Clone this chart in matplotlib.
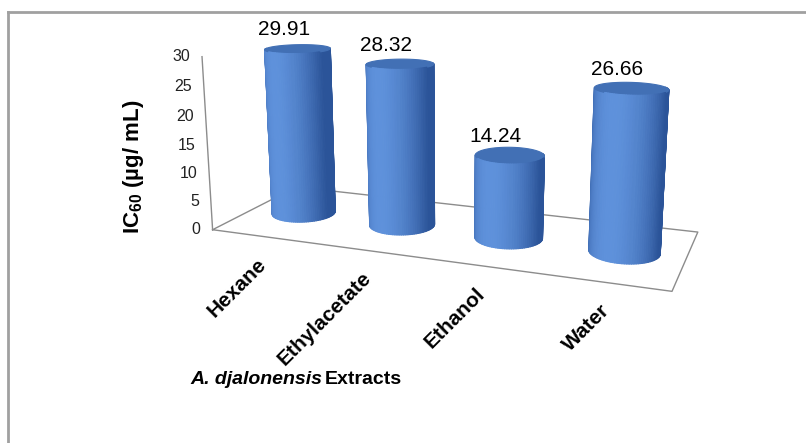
import numpy as np
import matplotlib
matplotlib.use("Agg")
import matplotlib.pyplot as plt
from matplotlib.lines import Line2D
from matplotlib import transforms
from mpl_toolkits.mplot3d.art3d import Poly3DCollection

plt.rcParams['font.family'] = ['Liberation Sans', 'DejaVu Sans']
plt.rcParams['mathtext.fontset'] = 'custom'
plt.rcParams['mathtext.rm'] = 'Liberation Sans'
plt.rcParams['mathtext.bf'] = 'Liberation Sans:bold'

extracts = ["Hexane", "Ethylacetate", "Ethanol", "Water"]
ic60 = [29.91, 28.32, 14.24, 26.66]
yticks = [0, 5, 10, 15, 20, 25, 30]

W, H = 806, 443
fig = plt.figure(figsize=(W / 100, H / 100), dpi=100)

# camera chosen to mimic the Excel 3-D perspective
elev, azim, focal = 13.574, -69.066, 0.3524
by, bz = 1.4612, 1.5340
ax = fig.add_axes([0.2378, 0.0777, 0.6346, 1.1546], projection='3d', computed_zorder=False)
ax.set_xlim(-0.5, 3.5)
ax.set_ylim(0, 1)
ax.set_zlim(0, 30)
ax.view_init(elev=elev, azim=azim)
ax.set_proj_type('persp', focal_length=focal)
ax.set_box_aspect((4, by, bz))
ax.set_axis_off()

M = ax.get_proj()


def to2d(x, y, z):
    h = M @ np.array([x, y, z, 1.0])
    return h[0] / h[3], h[1] / h[3]


def offset(dx, dy):
    return transforms.offset_copy(ax.transData, fig=fig, x=dx, y=dy, units='dots')


# floor outline and value axis
floor_x = [-0.5, 3.5, 3.5, -0.5, -0.5]
floor_y = [0, 0, 1, 1, 0]
ax.plot(floor_x, floor_y, [0] * 5, color='#8c8c8c', lw=1.0, zorder=1)
ax.plot([-0.5, -0.5], [0, 0], [0, 30], color='#8c8c8c', lw=1.0, zorder=1)

# cylinder shading
cam = np.array([np.cos(np.radians(azim)), np.sin(np.radians(azim))])
left = np.array([cam[1], -cam[0]])
light = np.cos(np.radians(35)) * cam + np.sin(np.radians(35)) * left
dark = np.array([0.17, 0.33, 0.60])
bright = np.array([0.37, 0.57, 0.86])
top_col = (0.26, 0.44, 0.71)

theta = np.linspace(0, 2 * np.pi, 97)
rx = 0.29
ry = rx / by
for i, val in enumerate(ic60):
    xs = i + rx * np.cos(theta)
    ys = 0.5 + ry * np.sin(theta)
    polys, cols = [], []
    for j in range(len(theta) - 1):
        tm = 0.5 * (theta[j] + theta[j + 1])
        facing = np.cos(tm) * cam[0] + np.sin(tm) * cam[1]
        if facing < -0.2:
            continue
        polys.append([(xs[j], ys[j], 0), (xs[j + 1], ys[j + 1], 0),
                      (xs[j + 1], ys[j + 1], val), (xs[j], ys[j], val)])
        t = np.clip(np.cos(tm) * light[0] + np.sin(tm) * light[1], 0, 1) ** 1.2
        cols.append(tuple(dark + (bright - dark) * t))
    polys.append(list(zip(xs, ys, [val] * len(xs))))
    cols.append(top_col)
    pc = Poly3DCollection(polys, facecolors=cols, edgecolors=cols, linewidths=0.8,
                          zorder=2 + i)
    ax.add_collection3d(pc)

    u, v = to2d(i, 0.5, val)
    ax.text2D(u, v, f"{val:.2f}", transform=offset(-14, 19), ha='center', va='center',
              fontsize=15, zorder=10)
    u, v = to2d(i, 0, 0)
    ax.text2D(u, v, extracts[i], transform=offset(2, -25), ha='right', va='center',
              rotation=45, rotation_mode='anchor', fontsize=15, fontweight='bold', zorder=10)

for t in yticks:
    u, v = to2d(-0.5, 0, t)
    ax.text2D(u, v, str(t), transform=offset(-12, 0), ha='right', va='center',
              fontsize=11.5, color='#222222', zorder=10)

fig.text(133 / W, 1 - 167 / H, r"IC$_\mathbf{60}$ (µg/ mL)", rotation=90, ha='center',
         va='center', fontsize=16, fontweight='bold')

t1 = fig.text(190 / W, 1 - 380 / H, "A. djalonensis", ha='left', va='center', fontsize=14,
              fontweight='bold', fontstyle='italic')
ext = t1.get_window_extent(renderer=fig.canvas.get_renderer())
fig.text(ext.x1 / W + 0.004, 1 - 380 / H, "Extracts", ha='left', va='center', fontsize=14,
         fontweight='bold')

# chart frame (only top and left edges are visible in the crop)
fig.add_artist(Line2D([8 / W, 1], [1 - 12 / H] * 2, color='#a0a0a0', lw=2))
fig.add_artist(Line2D([8 / W] * 2, [0, 1 - 12 / H], color='#a0a0a0', lw=2))

fig.savefig("out.png", dpi=100)
